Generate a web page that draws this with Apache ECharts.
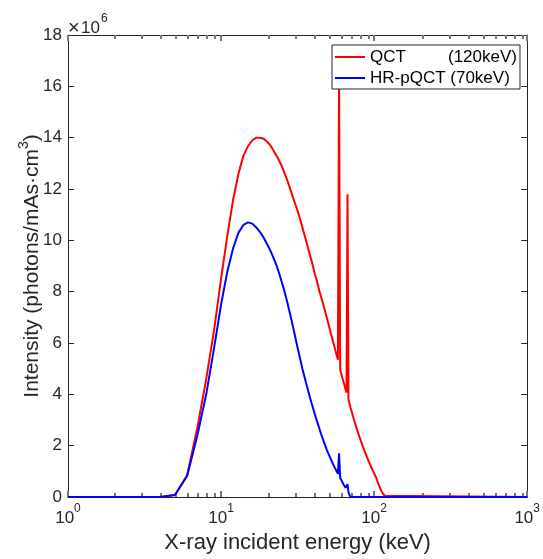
<!DOCTYPE html>
<html>
<head>
<meta charset="utf-8">
<script src="https://cdn.jsdelivr.net/npm/echarts@6/dist/echarts.min.js"></script>
<style>
html,body{margin:0;padding:0;background:#fff;}
#chart{width:543px;height:559px;}
</style>
</head>
<body>
<div id="chart"></div>
<script>
// Energies (keV)
const energy = [1,2,3,4,5,6,7,8,9,10,11,12,13,14,15,16,17,18,19,20,
21,22,23,24,25,26,27,28,29,30,31,32,33,34,35,36,37,38,39,40,
41,42,43,44,45,46,47,48,49,50,51,52,53,54,55,56,57,58,59,60,
61,62,63,64,65,66,67,68,69,70,71,72,73,74,75,76,77,78,79,80,
81,82,83,84,85,86,87,88,89,90,91,92,93,94,95,96,97,98,99,100,
101,102,103,104,105,106,107,108,109,110,111,112,113,114,115,116,117,118,119,120,1000];

// Intensity, x10^6 photons/mAs·cm^3
const qct = [0,0,0,0,0.08,0.85,2.7,4.6,6.5,8.5,10.2,11.6,12.6,13.3,13.67,13.9,14.0,14.0,13.96,13.84,
13.7,13.5,13.3,13.1,12.87,12.62,12.36,12.08,11.8,11.55,11.3,11.05,10.78,10.5,10.23,9.96,9.7,9.45,9.2,8.95,
8.7,8.47,8.24,8.0,7.8,7.6,7.4,7.2,7.0,6.8,6.6,6.4,6.22,6.04,5.86,5.68,5.5,5.35,16.5,4.95,
4.8,4.65,4.5,4.35,4.2,4.07,11.8,3.78,3.64,3.5,3.37,3.24,3.12,3.0,2.88,2.77,2.66,2.56,2.46,2.36,
2.27,2.18,2.09,2.0,1.92,1.84,1.76,1.68,1.61,1.54,1.47,1.4,1.33,1.27,1.21,1.15,1.09,1.03,0.97,0.92,
0.87,0.81,0.75,0.69,0.62,0.55,0.48,0.42,0.36,0.31,0.26,0.22,0.18,0.14,0.11,0.08,0.05,0.03,0.01,0,0];

const hrpqct = [0,0,0,0,0.08,0.82,2.4,4.0,5.8,7.5,8.8,9.7,10.3,10.6,10.7,10.65,10.5,10.32,10.1,9.85,
9.6,9.32,9.03,8.7,8.35,8.0,7.62,7.22,6.84,6.44,6.05,5.68,5.33,5.0,4.7,4.42,4.16,3.9,3.66,3.44,
3.22,3.02,2.83,2.64,2.46,2.3,2.14,1.99,1.85,1.72,1.6,1.49,1.38,1.27,1.17,1.08,0.99,0.9,1.7,0.74,
0.66,0.58,0.5,0.43,0.36,0.3,0.5,0.18,0.08,0,0,0,0,0,0,0,0,0,0,0,
0,0,0,0,0,0,0,0,0,0,0,0,0,0,0,0,0,0,0,0,
0,0,0,0,0,0,0,0,0,0,0,0,0,0,0,0,0,0,0,0,0];

const seriesNames = ['QCT', 'HR-pQCT'];
const majorTicks = [1, 10, 100, 1000];
const minorTicks = [2,3,4,5,6,7,8,9,20,30,40,50,60,70,80,90,200,300,400,500,600,700,800,900];

const FONT = '"Liberation Sans", Arial, Helvetica, sans-serif';
const TC = '#262626';
const TICK = '#777777';

const chart = echarts.init(document.getElementById('chart'), null, {renderer: 'canvas'});

const gridRect = {left: 68, right: 13, top: 35, bottom: 62};

const logX = {type: 'log', logBase: 10, min: 1, max: 1000, splitLine: {show: false}};

const option = {
  animation: false,
  backgroundColor: '#fff',
  grid: [Object.assign({}, gridRect), Object.assign({}, gridRect)],
  legend: {
    data: seriesNames,
    orient: 'vertical',
    left: 332,
    top: 45,
    padding: [2, 3, 1, 3],
    itemGap: 1,
    itemWidth: 30,
    itemHeight: 2,
    icon: 'rect',
    borderColor: TC,
    borderWidth: 1,
    backgroundColor: '#fff',
    textStyle: {
      color: '#000', fontFamily: FONT, fontSize: 17, lineHeight: 20,
      rich: {
        a: {fontFamily: FONT, fontSize: 17, color: '#000', width: 78, lineHeight: 20},
        c: {fontFamily: FONT, fontSize: 17, color: '#000', lineHeight: 20}
      }
    },
    formatter: function (name) {
      return name === 'QCT' ? '{a|QCT}{c|(120keV)}' : '{c|HR-pQCT (70keV)}';
    }
  },
  graphic: [
    {
      type: 'text', left: 68, top: 18, z: 100,
      style: {text: '×', fill: TC, font: '20px "Liberation Sans", Arial, sans-serif'}
    },
    {
      type: 'text', left: 81, top: 20, z: 100,
      style: {text: '10', fill: TC, font: '17px "Liberation Sans", Arial, sans-serif'}
    },
    {
      type: 'text', left: 101, top: 13, z: 100,
      style: {text: '6', fill: TC, font: '12px "Liberation Sans", Arial, sans-serif'}
    }
  ],
  xAxis: [
    Object.assign({}, logX, {
      gridIndex: 0, position: 'bottom',
      axisLine: {show: true, onZero: false, lineStyle: {color: TC, width: 1}},
      axisTick: {show: true, inside: true, length: 6, lineStyle: {color: TICK, width: 2}, customValues: majorTicks},
      axisLabel: {
        margin: 6,
        customValues: majorTicks,
        formatter: function (v) {
          return '{b|10}{s|' + Math.round(Math.log10(v)) + '}';
        },
        rich: {
          b: {fontFamily: FONT, fontSize: 17, color: TC, lineHeight: 24, verticalAlign: 'bottom'},
          s: {fontFamily: FONT, fontSize: 12, color: TC, verticalAlign: 'top'}
        }
      },
      name: 'X-ray incident energy (keV)',
      nameLocation: 'middle',
      nameGap: 35,
      nameTextStyle: {fontFamily: FONT, fontSize: 22, color: TC}
    }),
    Object.assign({}, logX, {
      gridIndex: 0, position: 'top',
      axisLine: {show: true, onZero: false, lineStyle: {color: TC, width: 1}},
      axisTick: {show: true, inside: true, length: 6, lineStyle: {color: TICK, width: 2}, customValues: majorTicks},
      axisLabel: {show: false}
    }),
    Object.assign({}, logX, {
      gridIndex: 1, position: 'bottom',
      axisLine: {show: false, onZero: false},
      axisTick: {show: true, inside: true, length: 4, lineStyle: {color: TICK, width: 2}, customValues: minorTicks},
      axisLabel: {show: false}
    }),
    Object.assign({}, logX, {
      gridIndex: 1, position: 'top',
      axisLine: {show: false, onZero: false},
      axisTick: {show: true, inside: true, length: 4, lineStyle: {color: TICK, width: 2}, customValues: minorTicks},
      axisLabel: {show: false}
    })
  ],
  yAxis: [
    {
      type: 'value', min: 0, max: 18, interval: 2, gridIndex: 0, position: 'left',
      axisLine: {show: true, onZero: false, lineStyle: {color: TC, width: 1}},
      axisTick: {show: true, inside: true, length: 6, lineStyle: {color: TC}},
      splitLine: {show: false},
      axisLabel: {margin: 6, fontFamily: FONT, fontSize: 17, color: TC},
      name: '{t|Intensity (photons/mAs·cm}{s|3}{t|)}',
      nameLocation: 'middle',
      nameGap: 25,
      nameMoveOverlap: false,
      nameRotate: 90,
      nameTextStyle: {
        rich: {
          t: {fontFamily: FONT, fontSize: 21, color: TC, lineHeight: 26, verticalAlign: 'bottom'},
          s: {fontFamily: FONT, fontSize: 14, color: TC, verticalAlign: 'top'}
        }
      }
    },
    {
      type: 'value', min: 0, max: 18, interval: 2, gridIndex: 0, position: 'right',
      axisLine: {show: true, onZero: false, lineStyle: {color: TC, width: 1}},
      axisTick: {show: true, inside: true, length: 6, lineStyle: {color: TC}},
      splitLine: {show: false},
      axisLabel: {show: false}
    },
    {
      type: 'value', min: 0, max: 18, gridIndex: 1, show: false
    }
  ],
  series: [
    {
      name: seriesNames[0], type: 'line', xAxisIndex: 0, yAxisIndex: 0,
      data: energy.map((e, i) => [e, qct[i]]),
      symbol: 'none', clip: false, z: 2,
      lineStyle: {color: '#ff0000', width: 2},
      itemStyle: {color: '#ff0000'}
    },
    {
      name: seriesNames[1], type: 'line', xAxisIndex: 0, yAxisIndex: 0,
      data: energy.map((e, i) => [e, hrpqct[i]]),
      symbol: 'none', clip: false, z: 3,
      lineStyle: {color: '#0000ff', width: 2},
      itemStyle: {color: '#0000ff'}
    }
  ]
};

chart.setOption(option);
</script>
</body>
</html>
